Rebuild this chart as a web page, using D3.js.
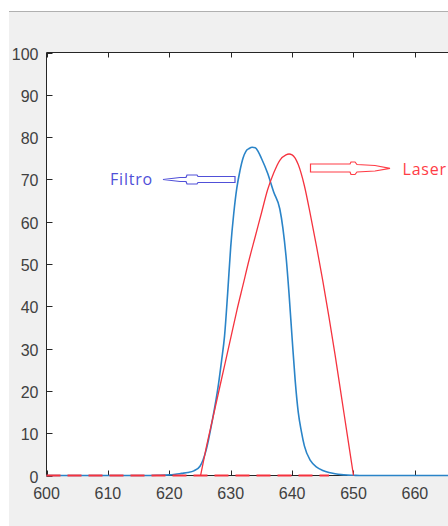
<!DOCTYPE html>
<html>
<head>
<meta charset="utf-8">
<script src="https://cdn.jsdelivr.net/npm/d3@7"></script>
<style>
  body { margin: 0; background: #fff; }
  svg { display: block; }
</style>
</head>
<body>
<div id="chart"></div>
<script>
// Filtro (blue) transmission curve
const filtroNm  = [600, 616, 618, 620, 621, 622, 623, 624, 625, 626, 627, 628, 628.5, 629, 629.5, 630, 630.5, 631, 631.5, 632, 632.5, 633, 633.5, 634, 634.5, 635, 636, 637, 638, 638.5, 639, 639.5, 640, 640.5, 641, 641.5, 642, 643, 644, 645, 646, 647, 648, 649, 650, 651, 670];
const filtroVal = [0, 0, 0.05, 0.15, 0.3, 0.5, 0.7, 1.1, 2.2, 6, 13, 21.5, 27, 33, 43, 54, 62, 68, 72, 75, 76.7, 77.3, 77.6, 77.5, 76.5, 75, 71.5, 67, 63, 58.5, 52, 43, 32.5, 22.5, 15, 10.5, 7, 3.5, 2, 1.2, 0.7, 0.4, 0.2, 0.1, 0.05, 0, 0];

// Laser (red) curve
const laserNm  = [625.1, 626, 627, 628, 629, 630, 631, 632, 633, 634, 635, 636, 637, 638, 639, 639.5, 640, 641, 642, 643, 644, 645, 646, 647, 648, 649, 650];
const laserVal = [0, 6.5, 13, 19.5, 26, 32.5, 39, 45, 51, 56.5, 62, 67.5, 71.5, 74.5, 75.8, 76, 75.8, 73.5, 68.5, 61.5, 54, 46, 37.5, 28.5, 19, 9.5, 0];

// red dashed baseline
const laserBaseNm  = [600, 646];
const laserBaseVal = [0, 0];

const xTicks = [600, 610, 620, 630, 640, 650, 660, 670];
const xLabels = [600, 610, 620, 630, 640, 650, 660];
const yTicks = [0, 10, 20, 30, 40, 50, 60, 70, 80, 90, 100];

const width = 448, height = 526;
const margins = { left: 46.5, top: 52.5, bottom: 475.5 };
const xScale = d3.scaleLinear().domain([600, 670]).range([margins.left, margins.left + 70 * 6.14]);
const yScale = d3.scaleLinear().domain([0, 100]).range([margins.bottom, margins.top]);

const svg = d3.select("#chart").append("svg")
  .attr("width", width)
  .attr("height", height);

// figure background
svg.append("rect").attr("x", 9).attr("y", 11).attr("width", width).attr("height", height).attr("fill", "#f0f0f0");
svg.append("line").attr("x1", 9).attr("x2", width).attr("y1", 11.5).attr("y2", 11.5)
  .attr("stroke", "#b0b0b0").attr("stroke-width", 1);

// axes area
svg.append("rect")
  .attr("x", xScale(600)).attr("y", yScale(100))
  .attr("width", xScale(670) - xScale(600)).attr("height", yScale(0) - yScale(100))
  .attr("fill", "white");

const axisColor = "#262626";
const labelColor = "#404040";
const tickFont = "'Liberation Sans', Arial, sans-serif";

const frame = svg.append("g");
frame.append("line").attr("x1", xScale(600)).attr("x2", xScale(670)).attr("y1", yScale(0)).attr("y2", yScale(0))
  .attr("stroke", axisColor);
frame.append("line").attr("x1", xScale(600)).attr("x2", xScale(670)).attr("y1", yScale(100)).attr("y2", yScale(100))
  .attr("stroke", axisColor);
frame.append("line").attr("x1", xScale(600)).attr("x2", xScale(600)).attr("y1", yScale(0)).attr("y2", yScale(100))
  .attr("stroke", axisColor);

// x ticks (inward, bottom and top)
xTicks.forEach(t => {
  const x = Math.round(xScale(t)) + 0.5;
  frame.append("line").attr("x1", x).attr("x2", x).attr("y1", yScale(0)).attr("y2", yScale(0) - 5).attr("stroke", axisColor);
  frame.append("line").attr("x1", x).attr("x2", x).attr("y1", yScale(100)).attr("y2", yScale(100) + 5).attr("stroke", axisColor);
});
xLabels.forEach(t => {
  frame.append("text")
    .attr("x", xScale(t)).attr("y", 499)
    .attr("text-anchor", "middle")
    .attr("font-family", tickFont).attr("font-size", 16)
    .attr("fill", labelColor)
    .text(t);
});

// y ticks
yTicks.forEach(t => {
  const y = Math.round(yScale(t)) + 0.5;
  frame.append("line").attr("x1", xScale(600)).attr("x2", xScale(600) + 6).attr("y1", y).attr("y2", y).attr("stroke", axisColor);
  frame.append("text")
    .attr("x", 38.5).attr("y", yScale(t) + 7)
    .attr("text-anchor", "end")
    .attr("font-family", tickFont).attr("font-size", 16)
    .attr("fill", labelColor)
    .text(t);
});

const line = d3.line().x(d => xScale(d[0])).y(d => yScale(d[1])).curve(d3.curveMonotoneX);

svg.append("path")
  .datum(d3.zip(filtroNm, filtroVal))
  .attr("d", line)
  .attr("fill", "none")
  .attr("stroke", "#2a84c8")
  .attr("stroke-width", 1.6);

svg.append("path")
  .datum(d3.zip(laserNm, laserVal))
  .attr("d", line)
  .attr("fill", "none")
  .attr("stroke", "#f5333f")
  .attr("stroke-width", 1.3);

svg.append("path")
  .datum(d3.zip(laserBaseNm, laserBaseVal))
  .attr("d", line)
  .attr("fill", "none")
  .attr("stroke", "#f5333f")
  .attr("stroke-width", 1.8)
  .attr("stroke-dasharray", "14,7");

// annotations
const filtroColor = "#5050d8";
const laserColor = "#ff3c46";
const annFont = "'Open Sans', 'Noto Sans', sans-serif";

svg.append("text")
  .attr("x", 110).attr("y", 184.5)
  .attr("font-family", annFont).attr("font-size", 16)
  .attr("letter-spacing", 0.8)
  .attr("fill", filtroColor)
  .text("Filtro");

svg.append("path")
  .attr("d", d3.line()([[163, 179.5], [180, 177.5], [186, 177.5], [187, 175], [197, 175], [198, 176.5], [235, 176.5],
    [235, 182.5], [198, 182.5], [197, 184], [187, 184], [186, 181.5], [180, 181.5]]) + "Z")
  .attr("fill", "white")
  .attr("stroke", filtroColor)
  .attr("stroke-width", 1.2);

svg.append("path")
  .attr("d", d3.line()([[310.5, 164], [350, 164], [351, 162], [355, 162], [357, 164.5], [375, 165.5], [390, 168.3],
    [375, 171], [357, 172], [355, 174.5], [351, 174.5], [350, 172], [310.5, 172]]) + "Z")
  .attr("fill", "white")
  .attr("stroke", laserColor)
  .attr("stroke-width", 1.2);

svg.append("text")
  .attr("x", 402.5).attr("y", 175)
  .attr("font-family", annFont).attr("font-size", 16)
  .attr("letter-spacing", 0.8)
  .attr("fill", laserColor)
  .text("Laser");
</script>
</body>
</html>
